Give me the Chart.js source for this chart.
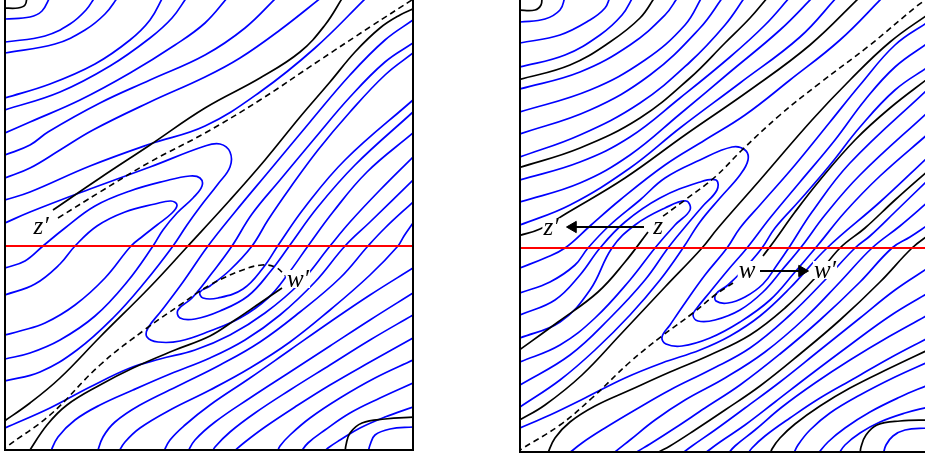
<!DOCTYPE html>
<html>
<head>
<meta charset="utf-8">
<script src="https://cdn.jsdelivr.net/npm/chart.js@4"></script>
<style>
  html, body { margin: 0; padding: 0; background: #fff; overflow: hidden; width: 925px; height: 457px; }
  .panel { position: absolute; top: 0; }
  #pl { left: 0; }
  #pr { left: 515px; }
</style>
</head>
<body>
<div class="panel" id="pl"><canvas id="cl" width="420" height="457"></canvas></div>
<div class="panel" id="pr"><canvas id="cr" width="420" height="457"></canvas></div>
<script>
// Level curves on the torus, as flat [u0, y0, u1, y1, ...] lists.
// u runs 0..408 across a panel, y runs down from the top edge.

// ---------- left panel ----------
const leftArcs = [
  [0,19, 25,17, 37,11, 45,-3],
  [0,42, 40,36, 65,24, 81,10, 90,-3],
  [0,53, 50,44, 80,30, 100,14, 113,-3],
  [0,98, 45,84, 90,64, 125,40, 145,20, 158,-3],
  [0,110, 55,92, 105,66, 145,38, 167,18, 182,-3],
  [0,133, 25,122, 75,100, 125,73, 170,45, 200,23, 223,-3],
  [0,155, 25,145, 43,132, 95,103, 145,80, 200,55, 240,28, 272,-3],
  [0,178, 25,168, 55,150, 88,130, 145,102, 200,77, 235,58, 275,30, 317,-3],
  [0,200, 25,192, 85,166, 145,144, 200,126, 255,92, 310,48, 362,-3]
];
const leftTonguesUp = [
  [0,223, 25,212, 85,189, 145,167, 200,146, 215,144, 225,152, 225,167, 213,184, 195,207, 182,225, 168,246, 140,282, 108,318, 72,350, 35,372, 0,381],
  [0,268, 20,261, 38,246, 60,228, 90,206, 125,191, 160,181, 185,176, 195,178, 197,186, 188,198, 172,213, 158,230, 148,246, 122,282, 90,316, 55,340, 25,353, 0,359],
  [0,295, 30,284, 55,264, 70,246, 92,226, 120,212, 150,204, 166,201, 172,205, 167,213, 152,225, 138,236, 126,246, 100,278, 70,305, 40,323, 15,331, 0,335]
];
const leftTonguesDown = [
  [408,20, 380,40, 345,75, 305,122, 265,170, 230,212, 203,246, 178,282, 157,310, 143,328, 142,337, 153,342, 175,341, 205,331, 235,318, 263,298, 283,274, 303,246, 328,212, 362,172, 408,133],
  [408,43, 380,62, 345,97, 310,138, 275,180, 247,214, 227,246, 207,273, 187,298, 173,310, 175,318, 190,319, 215,311, 243,296, 265,272, 285,245, 312,208, 350,165, 408,112],
  [408,53, 380,75, 345,112, 313,150, 285,188, 263,220, 247,246, 225,270, 205,286, 195,292, 198,298, 213,298, 238,289, 258,268, 274,244, 300,207, 340,160, 408,100]
];
const leftOuter = [
  [408,157, 375,190, 345,222, 325,246, 295,283, 260,313, 225,335, 190,350, 155,359, 125,368, 85,387, 45,408, 0,428],
  [408,180, 365,222, 340,246, 310,282, 275,315, 240,340, 205,358, 165,374, 128,390, 95,405, 70,420, 53,437, 45,453],
  [408,202, 380,228, 363,246, 335,278, 295,312, 255,342, 215,365, 175,385, 135,405, 110,422, 98,437, 92,453],
  [408,223, 399,236, 393,246, 365,275, 325,310, 285,342, 245,368, 205,390, 165,410, 135,428, 120,442, 113,453]
];
const leftLower = [
  [408,268, 365,295, 325,322, 285,350, 245,378, 205,405, 180,425, 165,440, 158,453],
  [408,293, 365,320, 325,346, 285,372, 245,398, 210,422, 190,440, 182,453],
  [408,315, 365,340, 325,365, 285,390, 250,413, 225,432, 210,447, 207,453],
  [408,338, 365,362, 325,385, 290,407, 260,427, 240,442, 227,453],
  [408,360, 370,378, 335,398, 305,418, 285,435, 275,446, 272,453],
  [408,383, 375,398, 345,413, 320,430, 303,443, 295,453],
  [408,407, 380,417, 355,428, 335,440, 323,448, 318,453],
  [408,427, 385,429, 370,435, 365,445, 363,453]
];
const leftBlack = [
  [-2,8, 13,8, 20,5, 22,-3],
  [-2,422, 25,403, 55,378, 95,337, 145,287, 182,247, 225,200, 260,160, 295,117, 325,82, 350,52, 375,28, 395,15, 410,8],
  [410,417, 380,419, 357,423, 345,433, 341,445, 340,453],
  [48,210, 95,178, 145,145, 200,108, 255,78, 295,52, 320,25, 338,-3],
  [23,453, 42,425, 62,405, 95,385, 128,368, 170,350, 205,336, 230,320, 255,303, 277,288]
];
const leftDashed = [
  [53,218, 95,192, 145,162, 200,133, 255,100, 315,60, 365,27, 410,-2],
  [-3,452, 0,448, 45,415, 95,365, 142,328, 175,305, 205,285, 235,271, 257,265, 272,268, 280,276]
];
const leftRedY = 246;
const leftLabels = [
  { text: 'z\u2032', u: 36, y: 226 },
  { text: 'w\u2032', u: 293, y: 279 }
];

// ---------- right panel ----------
const rightArcs = [
  [0,22, 25,19, 40,10, 45,-3],
  [0,43, 40,35, 70,20, 85,8, 90,-3],
  [0,67, 45,55, 80,35, 102,15, 113,-3],
  [0,89, 60,72, 110,45, 145,15, 158,-3],
  [0,112, 70,90, 125,60, 165,25, 182,-3],
  [0,134, 70,110, 130,75, 180,28, 203,-3],
  [0,157, 60,135, 120,103, 170,62, 205,25, 225,-3],
  [0,180, 60,162, 110,137, 160,98, 210,57, 245,25, 270,-3],
  [0,202, 60,183, 110,155, 160,114, 210,72, 260,30, 293,-3],
  [0,225, 50,205, 110,168, 160,128, 220,83, 280,37, 317,-3],
  [0,268, 25,258, 45,248, 70,226, 100,200, 145,165, 185,140, 225,115, 270,80, 320,40, 363,-3]
];
const rightTonguesUp = [
  [0,293, 30,282, 55,265, 68,248, 90,225, 120,200, 145,178, 180,160, 212,147, 225,150, 228,160, 220,175, 200,198, 180,222, 163,248, 140,280, 110,315, 75,350, 40,380, 0,407],
  [0,315, 35,300, 60,275, 80,248, 105,222, 140,198, 180,182, 196,180, 197,190, 182,207, 165,227, 148,248, 125,280, 90,318, 50,355, 0,385],
  [0,338, 40,322, 70,290, 92,248, 115,225, 145,208, 166,201, 170,210, 155,225, 135,248, 110,280, 75,318, 40,345, 0,362]
];
const rightTonguesDown = [
  [408,22, 375,45, 340,85, 310,122, 275,165, 240,205, 220,228, 207,248, 185,275, 165,303, 150,325, 142,337, 146,344, 162,346, 190,338, 220,322, 250,300, 275,272, 298,245, 325,212, 360,176, 408,134],
  [408,43, 375,67, 345,100, 315,140, 280,182, 250,218, 227,248, 208,270, 190,292, 177,308, 173,315, 178,321, 195,320, 220,310, 243,292, 262,270, 282,246, 305,215, 340,175, 408,112],
  [408,67, 375,90, 340,127, 310,165, 280,200, 255,228, 242,248, 225,268, 208,285, 196,294, 196,301, 208,303, 225,297, 243,284, 257,265, 270,246, 292,212, 330,163, 408,89]
];
const rightOuter = [
  [408,157, 360,202, 307,248, 270,288, 240,316, 210,336, 180,350, 142,363, 105,378, 65,398, 30,415, 0,428],
  [408,180, 375,212, 350,236, 335,248, 305,280, 270,315, 230,348, 190,370, 150,390, 115,410, 85,428, 62,443, 47,455],
  [408,202, 380,226, 352,248, 320,282, 285,318, 245,352, 205,378, 165,400, 135,420, 110,440, 95,452, 92,455],
  [408,225, 390,237, 372,248, 340,282, 300,320, 260,354, 220,385, 185,408, 155,428, 130,444, 115,453, 113,455]
];
const rightLower = [
  [408,268, 375,290, 340,318, 300,350, 260,382, 225,408, 195,430, 172,446, 160,455],
  [408,293, 370,316, 330,345, 290,375, 255,402, 225,425, 200,442, 185,453, 182,455],
  [408,315, 370,336, 330,360, 295,383, 262,407, 235,430, 215,446, 207,455],
  [408,338, 370,358, 335,378, 300,398, 270,418, 245,436, 232,448, 227,455],
  [408,362, 375,377, 340,395, 310,413, 290,430, 278,445, 273,455],
  [408,385, 380,397, 350,412, 325,428, 308,442, 297,455],
  [408,407, 385,413, 360,422, 340,433, 325,445, 318,455],
  [408,428, 385,430, 373,436, 366,445, 363,455]
];
const rightBlack = [
  [-2,10, 15,10, 21,5, 22,-3],
  [-2,80, 50,65, 90,42, 120,18, 135,-3],
  [-2,168, 60,148, 120,118, 170,78, 205,43, 230,18, 248,-3],
  [-2,236, 20,229, 47,213, 105,178, 165,135, 230,90, 290,45, 340,-3],
  [-2,351, 38,322, 78,292, 105,262, 128,232],
  [-2,421, 25,405, 62,375, 100,335, 145,287, 182,248, 198,228, 240,180, 292,120, 330,80, 370,42, 410,13],
  [243,256, 255,240, 275,212, 300,180, 335,140, 370,108, 410,77],
  [410,169, 375,200, 345,228, 320,248, 295,278, 265,308, 230,335, 190,355, 150,372, 110,390, 75,406, 50,422, 35,438, 27,455],
  [410,234, 392,248, 360,282, 320,320, 280,354, 240,386, 205,410, 175,430, 150,446, 137,453, 135,455],
  [410,349, 370,368, 330,388, 300,406, 275,424, 260,438, 252,449, 250,455],
  [410,420, 380,421, 357,425, 346,435, 341,447, 340,455]
];
const rightDashed = [
  [135,222, 165,200, 195,177, 222,150, 260,115, 300,83, 350,45, 397,6, 410,-3],
  [-3,453, 0,450, 40,425, 72,398, 110,362, 142,336, 173,313, 195,295, 213,283]
];
const rightRedY = 248;
const rightLabels = [
  { text: 'z\u2032', u: 31, y: 227 },
  { text: 'z', u: 138, y: 226 },
  { text: 'w', u: 227, y: 270 },
  { text: 'w\u2032', u: 305, y: 270 }
];
const rightArrows = [
  { from: [124, 227], to: [53, 227], rotation: -90 },
  { from: [240, 271], to: [282, 271], rotation: 90 }
];

// ---------- drawing ----------
const BLUE = 'rgb(0,0,255)';

function toPts(a) {
  const p = [];
  for (let i = 0; i < a.length; i += 2) p.push({ x: a[i], y: a[i + 1] });
  return p;
}

function curveSets(list, color, width, order, dash) {
  return list.map(a => ({
    data: toPts(a),
    showLine: true,
    borderColor: color,
    borderWidth: width,
    borderDash: dash || [],
    pointRadius: 0,
    tension: 0.4,
    fill: false,
    clip: 0,
    order: order
  }));
}

const framePlugin = {
  id: 'frame',
  afterDatasetsDraw(chart) {
    const { ctx, chartArea: a } = chart;
    ctx.save();
    ctx.strokeStyle = '#000';
    ctx.lineWidth = 2;
    ctx.beginPath();
    ctx.moveTo(a.left, a.top - 2);
    ctx.lineTo(a.left, a.bottom);
    ctx.lineTo(a.right, a.bottom);
    ctx.lineTo(a.right, a.top - 2);
    ctx.stroke();
    ctx.restore();
  }
};

const labelPlugin = {
  id: 'pointLabels',
  afterDatasetsDraw(chart, args, opts) {
    const { ctx, scales: { x, y } } = chart;
    ctx.save();
    ctx.font = 'italic 25px "Liberation Serif", "DejaVu Serif", serif';
    ctx.textAlign = 'center';
    ctx.textBaseline = 'middle';
    (opts.items || []).forEach(l => {
      const px = x.getPixelForValue(l.u);
      const py = y.getPixelForValue(l.y);
      const w = ctx.measureText(l.text).width;
      ctx.fillStyle = '#fff';
      ctx.fillRect(px - w / 2 - 1, py - 9, w + 2, 18);
      ctx.fillStyle = '#000';
      ctx.fillText(l.text, px, py + 1);
    });
    ctx.restore();
  }
};

function makePanel(id, p) {
  const sets = [
    ...curveSets(p.blue, BLUE, 1.7, 4),
    ...curveSets(p.black, '#000', 1.7, 3),
    ...curveSets(p.dashed, '#000', 1.6, 2, [6, 4]),
    {
      data: toPts([0, p.redY, 408, p.redY]),
      showLine: true, borderColor: 'rgb(255,0,0)', borderWidth: 2,
      pointRadius: 0, tension: 0, clip: 0, order: 1
    },
    ...(p.arrows || []).map(ar => ({
      data: toPts([ar.from[0], ar.from[1], ar.to[0], ar.to[1]]),
      showLine: true, borderColor: '#000', borderWidth: 2.2, tension: 0,
      pointRadius: [0, 6.5], pointStyle: 'triangle', pointRotation: ar.rotation,
      pointBackgroundColor: '#000', pointBorderColor: '#000', pointBorderWidth: 1,
      order: 0
    }))
  ];
  return new Chart(document.getElementById(id), {
    type: 'scatter',
    data: { datasets: sets },
    options: {
      responsive: false,
      animation: false,
      events: [],
      layout: { padding: p.pad, autoPadding: false },
      elements: { line: { capBezierPoints: false }, point: { radius: 0 } },
      plugins: {
        legend: { display: false },
        tooltip: { enabled: false },
        pointLabels: { items: p.labels }
      },
      scales: {
        x: { type: 'linear', min: 0, max: 408, display: false },
        y: { type: 'linear', min: 0, max: p.yMax, reverse: true, display: false }
      }
    },
    plugins: [framePlugin, labelPlugin]
  });
}

makePanel('cl', {
  blue: [...leftArcs, ...leftTonguesUp, ...leftTonguesDown, ...leftOuter, ...leftLower],
  black: leftBlack,
  dashed: leftDashed,
  redY: leftRedY,
  labels: leftLabels,
  yMax: 450,
  pad: { left: 5, right: 7, top: 0, bottom: 7 }
});

makePanel('cr', {
  blue: [...rightArcs, ...rightTonguesUp, ...rightTonguesDown, ...rightOuter, ...rightLower],
  black: rightBlack,
  dashed: rightDashed,
  redY: rightRedY,
  labels: rightLabels,
  arrows: rightArrows,
  yMax: 452,
  pad: { left: 5, right: 7, top: 0, bottom: 5 }
});
</script>
</body>
</html>
